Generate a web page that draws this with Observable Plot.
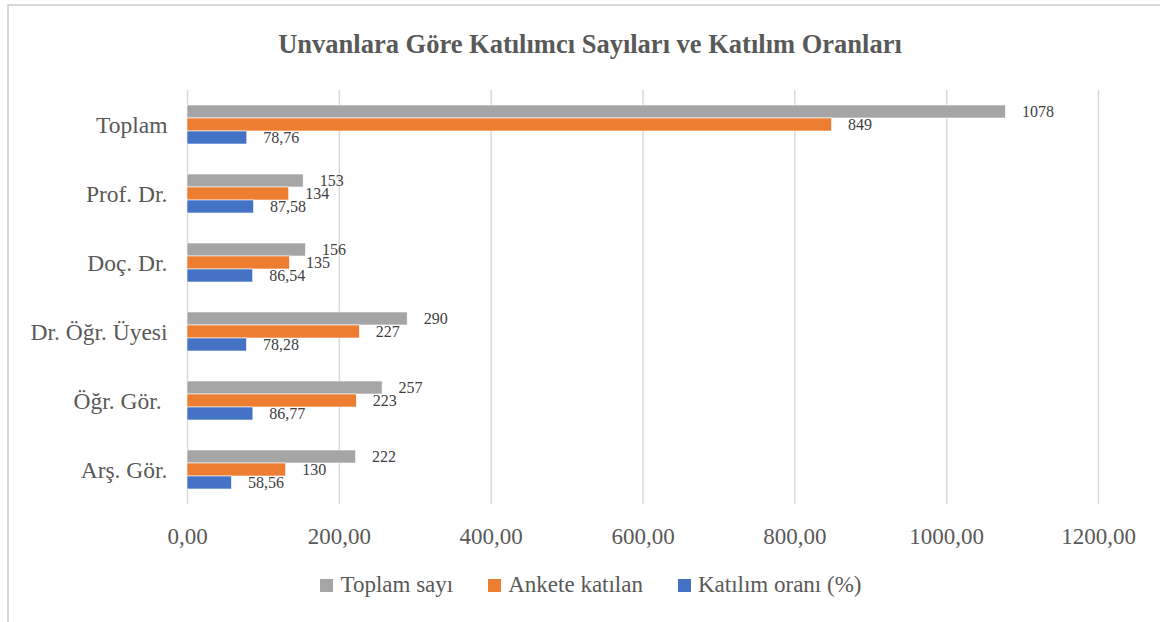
<!DOCTYPE html>
<html>
<head>
<meta charset="utf-8">
<script src="https://cdn.jsdelivr.net/npm/d3@7"></script>
<script src="https://cdn.jsdelivr.net/npm/@observablehq/plot@0.6"></script>
<style>
  html, body { margin: 0; padding: 0; background: #fff; }
  body { width: 1160px; height: 622px; overflow: hidden; position: relative; font-family: "Liberation Serif", "Times New Roman", serif; color: #595959; }
  #frame { position: absolute; left: 7px; top: 4px; width: 1160px; height: 640px; border: 2px solid #d9d9d9; box-sizing: border-box; }
  #title { position: absolute; left: 10px; top: 28px; width: 1160px; text-align: center; font-size: 26.5px; line-height: 32px; font-weight: bold; color: #595959; }
  #chart { position: absolute; left: 0; top: 69px; }
  #legend { position: absolute; left: 11px; top: 571px; width: 1160px; display: flex; justify-content: center; gap: 35px; font-size: 23px; line-height: 28px; color: #595959; }
  .item { display: flex; align-items: center; gap: 7px; }
  .sw { width: 13px; height: 13px; display: inline-block; }
</style>
</head>
<body>
<div id="frame"></div>
<div id="title">Unvanlara Göre Katılımcı Sayıları ve Katılım Oranları</div>
<div id="chart"></div>
<div id="legend"></div>
<script>
const categories = ["Toplam", "Prof. Dr.", "Doç. Dr.", "Dr. Öğr. Üyesi", "Öğr. Gör.\u00a0", "Arş. Gör."];
const seriesNames = ["Toplam sayı", "Ankete katılan", "Katılım oranı (%)"];
const colors = ["#A5A5A5", "#ED7D31", "#4472C4"];
const toplamSayi = [1078, 153, 156, 290, 257, 222];
const anketeKatilan = [849, 134, 135, 227, 223, 130];
const katilimOrani = [78.76, 87.58, 86.54, 78.28, 86.77, 58.56];
const xTicks = [0, 200, 400, 600, 800, 1000, 1200];

const seriesValues = [toplamSayi, anketeKatilan, katilimOrani];
const data = [];
categories.forEach((c, i) => {
  seriesNames.forEach((s, j) => {
    const v = seriesValues[j][i];
    data.push({category: c, series: s, value: v,
      label: j === 2 ? v.toFixed(2).replace(".", ",") : String(v)});
  });
});

const fmt = d => d.toFixed(2).replace(".", ",");

const chart = Plot.plot({
  width: 1160,
  height: 481,
  marginLeft: 187,
  marginRight: 62,
  marginTop: 19,
  marginBottom: 45,
  style: {fontFamily: "'Liberation Serif', 'Times New Roman', serif", color: "#595959", background: "transparent"},
  x: {domain: [0, 1200], ticks: xTicks, tickFormat: fmt, label: null},
  fy: {domain: categories, padding: 0, label: null},
  y: {domain: seriesNames, paddingInner: 0, paddingOuter: 1.125, axis: null},
  color: {domain: seriesNames, range: colors},
  marks: [
    Plot.gridX(xTicks, {stroke: "#d9d9d9", strokeOpacity: 1, strokeWidth: 1.5}),
    Plot.barX(data, {fy: "category", y: "series", x: "value", fill: "series", stroke: "white", strokeWidth: 0.6}),
    Plot.text(data, {fy: "category", y: "series", x: "value", text: "label", textAnchor: "start", dx: 16, fontSize: 16, fill: "#404040"}),
    Plot.axisX({ticks: xTicks, tickFormat: fmt, tickSize: 0, tickPadding: 23, fontSize: 23, label: null, fill: "#595959"}),
    Plot.axisFy({anchor: "left", tickSize: 0, tickPadding: 20, fontSize: 23.5, label: null, fill: "#595959"})
  ]
});
document.getElementById("chart").appendChild(chart);

const legend = document.getElementById("legend");
seriesNames.forEach((s, j) => {
  const it = document.createElement("div");
  it.className = "item";
  const sw = document.createElement("span");
  sw.className = "sw";
  sw.style.background = colors[j];
  const t = document.createElement("span");
  t.textContent = s;
  it.appendChild(sw); it.appendChild(t);
  legend.appendChild(it);
});
</script>
</body>
</html>
